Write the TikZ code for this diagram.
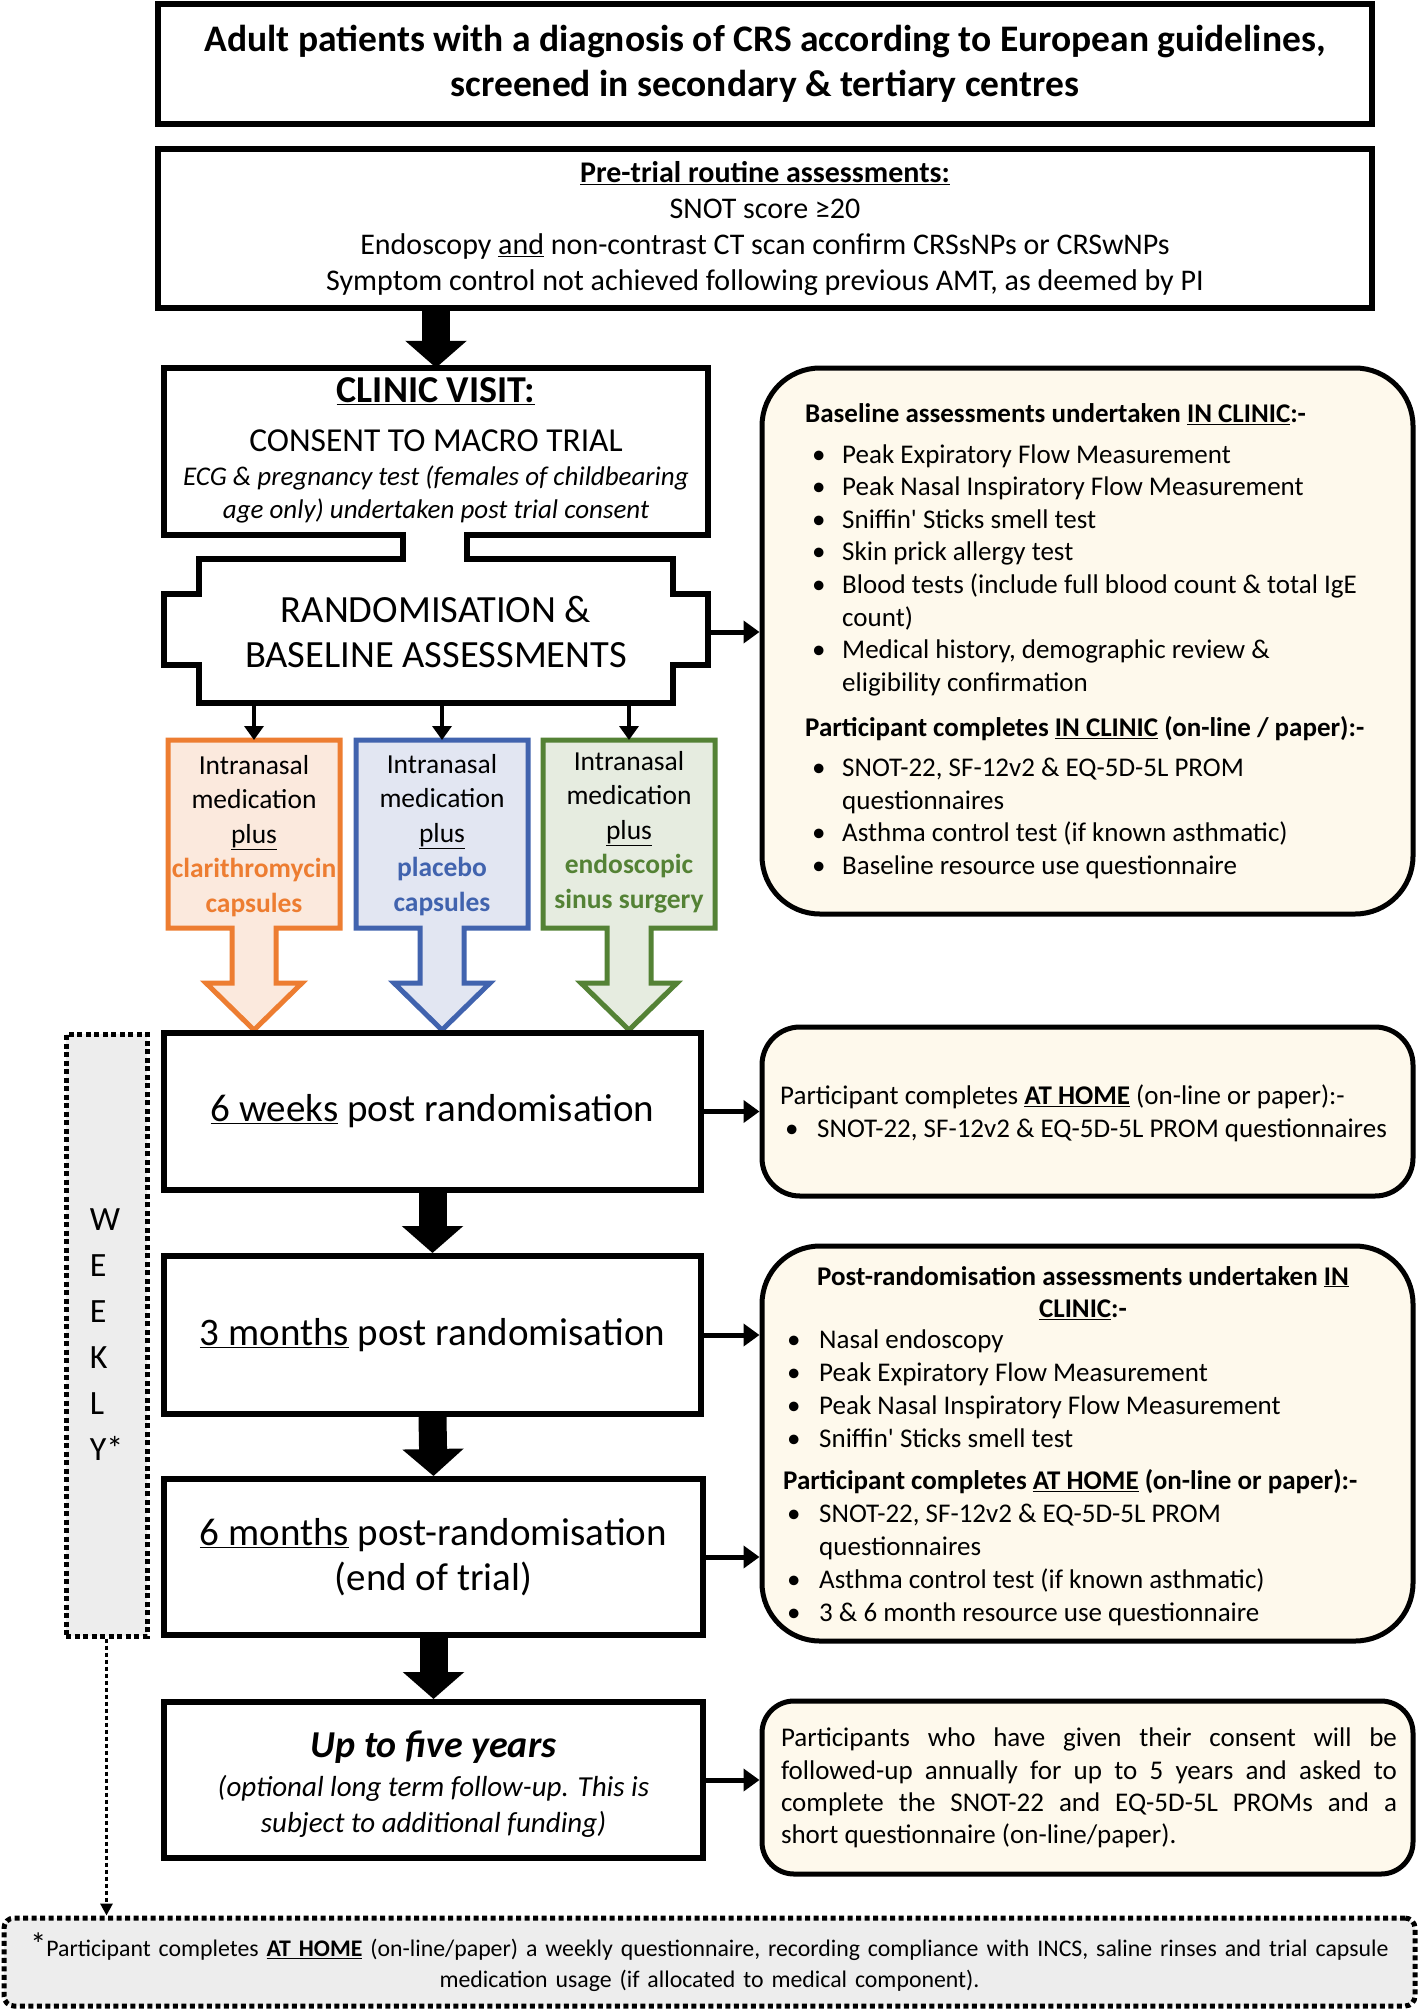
\documentclass[tikz,border=0pt]{standalone}
\usepackage{fontspec}
\setmainfont{Carlito}
\usetikzlibrary{arrows.meta}
\definecolor{cream}{HTML}{FEF9EC}
\definecolor{greybg}{HTML}{EDEDED}
\definecolor{orgline}{HTML}{ED7D31}
\definecolor{orgfill}{HTML}{FBE9DD}
\definecolor{bluline}{HTML}{4163AE}
\definecolor{blufill}{HTML}{E2E6F2}
\definecolor{grnline}{HTML}{548235}
\definecolor{grnfill}{HTML}{E6ECE0}
\newcommand\bul[2]{\hspace*{#1}\makebox[#2][l]{\textbullet}}
\newcommand\armshape[3]{%
  \draw[line width=5pt, draw=#2, fill=#3, line join=miter]
   (#1-86,740) -- (#1+86,740) -- (#1+86,928) -- (#1+22,928) -- (#1+22,983)
   -- (#1+48,983) -- (#1,1030) -- (#1-48,983) -- (#1-22,983) -- (#1-22,928)
   -- (#1-86,928) -- cycle;}
\begin{document}
\begin{tikzpicture}[x=1pt,y=-1pt,
  sqbox/.style={draw=black, line width=6pt, fill=white, inner sep=0pt, align=center},
  rbox/.style={draw=black, line width=5pt, fill=cream, inner sep=0pt},
  txt/.style={inner sep=0pt, align=left},
  dotbox/.style={draw=black, line width=5pt, dash pattern=on 5pt off 3.5pt, fill=greybg, inner sep=0pt},
  bigarr/.style={line width=28pt, -{Triangle[length=27pt,width=60pt]}},
  medarr/.style={line width=5pt, -{Triangle[length=16pt,width=22pt]}},
  smallarr/.style={line width=3.5pt, -{Triangle[length=14pt,width=19pt]}},
  armtxt/.style={inner sep=0pt, align=center, minimum width=172pt, minimum height=188pt, font=\fontsize{27.5}{34.5}\selectfont},
]
\fill[white] (0,0) rectangle (1418,2010);
\useasboundingbox (0,0) rectangle (1418,2010);

% top boxes
\node[sqbox, minimum width=1214pt, minimum height=120pt, font=\fontsize{37.5}{45}\selectfont\bfseries] (screen) at (765,64)
 {Adult patients with a diagnosis of CRS according to European guidelines,\\ screened in secondary \& tertiary centres};
\node[sqbox, minimum width=1214pt, minimum height=159pt, font=\fontsize{30}{36}\selectfont] (pretrial) at (765,228.5)
 {\textbf{\underline{Pre-trial routine assessments:}}\\ SNOT score ≥20\\ Endoscopy \underline{and} non-contrast CT scan confirm CRSsNPs or CRSwNPs\\ Symptom control not achieved following previous AMT, as deemed by PI};

% clinic + randomisation outline
\draw[line width=6pt, line join=miter, fill=white]
 (164,368) -- (708,368) -- (708,535) -- (467,535) -- (467,559) -- (673,559) -- (673,594)
 -- (708,594) -- (708,665) -- (673,665) -- (673,703) -- (199,703) -- (199,665) -- (164,665)
 -- (164,594) -- (199,594) -- (199,559) -- (403,559) -- (403,535) -- (164,535) -- cycle;
\node[inner sep=0pt, minimum width=544pt, minimum height=167pt] (clinic) at (436,451.5) {};
\node[txt, font=\fontsize{38}{40}\selectfont\bfseries] (clinicA) at (436,391) {\underline{CLINIC VISIT:}};
\node[txt, font=\fontsize{33.5}{36}\selectfont] (clinicB) at (436,441) {CONSENT TO MACRO TRIAL};
\node[txt, align=center, font=\fontsize{27}{33}\selectfont\itshape] (clinicC) at (436,494)
 {ECG \& pregnancy test (females of childbearing\\ age only) undertaken post trial consent};
\node[inner sep=0pt, minimum width=544pt, minimum height=144pt, align=center, font=\fontsize{38.5}{45}\selectfont] (random) at (436,632)
 {RANDOMISATION \&\\ BASELINE ASSESSMENTS};
\draw[bigarr] (clinic.north |- pretrial.south) -- (clinic.north);

% arms
\armshape{254}{orgline}{orgfill}
\armshape{442}{bluline}{blufill}
\armshape{629}{grnline}{grnfill}
\node[armtxt] (arm1) at (254,836) {Intranasal\\ medication\\ \underline{plus}\\ \textcolor{orgline}{\textbf{clarithromycin}}\\ \textcolor{orgline}{\textbf{capsules}}};
\node[armtxt] (arm2) at (442,835) {Intranasal\\ medication\\ \underline{plus}\\ \textcolor{bluline}{\textbf{placebo}}\\ \textcolor{bluline}{\textbf{capsules}}};
\node[armtxt] (arm3) at (629,832) {Intranasal\\ medication\\ \underline{plus}\\ \textcolor{grnline}{\textbf{endoscopic}}\\ \textcolor{grnline}{\textbf{sinus surgery}}};
\coordinate (arm1top) at (254,740);
\coordinate (arm2top) at (442,740);
\coordinate (arm3top) at (629,740);
\draw[smallarr] (random.south -| arm1top) -- (arm1top);
\draw[smallarr] (random.south -| arm2top) -- (arm2top);
\draw[smallarr] (random.south -| arm3top) -- (arm3top);

% baseline box
\node[rbox, rounded corners=58pt, minimum width=651pt, minimum height=546pt] (base) at (1087.5,641) {};
\node[txt, anchor=west, font=\fontsize{27}{32.6}\selectfont] (baseT) at (805,641)
 {\textbf{Baseline assessments undertaken \underline{IN CLINIC}:-}\\[8pt]
  \bul{7pt}{30pt}Peak Expiratory Flow Measurement\\
  \bul{7pt}{30pt}Peak Nasal Inspiratory Flow Measurement\\
  \bul{7pt}{30pt}Sniffin\textquotesingle\ Sticks smell test\\
  \bul{7pt}{30pt}Skin prick allergy test\\
  \bul{7pt}{30pt}Blood tests (include full blood count \& total IgE\\
  \hspace*{37pt}count)\\
  \bul{7pt}{30pt}Medical history, demographic review \&\\
  \hspace*{37pt}eligibility confirmation\\[13pt]
  \textbf{Participant completes \underline{IN CLINIC} (on-line / paper):-}\\[7pt]
  \bul{7pt}{30pt}SNOT-22, SF-12v2 \& EQ-5D-5L PROM\\
  \hspace*{37pt}questionnaires\\
  \bul{7pt}{30pt}Asthma control test (if known asthmatic)\\
  \bul{7pt}{30pt}Baseline resource use questionnaire};
\draw[medarr] (random.east) -- (random.east -| base.west);

% timeline
\node[sqbox, minimum width=537pt, minimum height=157pt, font=\fontsize{39}{45}\selectfont] (w6) at (432.5,1111.5) {\underline{6 weeks} post randomisation};
\node[sqbox, minimum width=537pt, minimum height=158pt, font=\fontsize{39}{45}\selectfont] (m3) at (432.5,1335) {\underline{3 months} post randomisation};
\node[sqbox, minimum width=539pt, minimum height=156pt, font=\fontsize{39}{45}\selectfont] (m6) at (433.5,1557) {\underline{6 months} post-randomisation\\ (end of trial)};
\node[sqbox, minimum width=539pt, minimum height=156pt] (y5) at (433.5,1780) {};
\node[inner sep=0pt, align=center, font=\fontsize{29}{36}\selectfont\itshape] (y5t) at (433.5,1784)
 {{\fontsize{38}{40}\selectfont\bfseries Up to five years}\\[3pt]
  (optional long term follow-up. This is\\ subject to additional funding)};
\draw[bigarr] (w6.south) -- (m3.north);
\draw[bigarr] (m3.south) -- (m6.north);
\draw[bigarr] (m6.south) -- (y5.north);

% right boxes
\node[rbox, rounded corners=38pt, minimum width=651pt, minimum height=169pt] (sixr) at (1087.5,1111.5) {};
\node[txt, anchor=west, font=\fontsize{27}{32.6}\selectfont] (sixrT) at (780,1113)
 {Participant completes \textbf{\underline{AT HOME}} (on-line or paper):-\\
  \bul{5pt}{32pt}SNOT-22, SF-12v2 \& EQ-5D-5L PROM questionnaires};
\node[rbox, rounded corners=58pt, minimum width=651pt, minimum height=395pt] (post) at (1087.5,1443.5) {};
\node[txt, align=center, font=\fontsize{27}{32.6}\selectfont\bfseries] (postH) at (1083,1293)
 {Post-randomisation assessments undertaken \underline{IN}\\ \underline{CLINIC}:-};
\node[txt, anchor=west, font=\fontsize{27}{33}\selectfont] (postT) at (783,1478)
 {\bul{4pt}{32pt}Nasal endoscopy\\
  \bul{4pt}{32pt}Peak Expiratory Flow Measurement\\
  \bul{4pt}{32pt}Peak Nasal Inspiratory Flow Measurement\\
  \bul{4pt}{32pt}Sniffin\textquotesingle\ Sticks smell test\\[9pt]
  \textbf{Participant completes \underline{AT HOME} (on-line or paper):-}\\
  \bul{4pt}{32pt}SNOT-22, SF-12v2 \& EQ-5D-5L PROM\\
  \hspace*{36pt}questionnaires\\
  \bul{4pt}{32pt}Asthma control test (if known asthmatic)\\
  \bul{4pt}{32pt}3 \& 6 month resource use questionnaire};
\node[rbox, rounded corners=32pt, minimum width=651pt, minimum height=173pt] (fivr) at (1087.5,1787.5) {};
\node[inner sep=0pt, text width=616pt, align=justify, font=\fontsize{27}{32.3}\selectfont] (fivrT) at (1089,1788)
 {Participants who have given their consent will be\linebreak followed-up annually for up to 5 years and asked to\linebreak complete the SNOT-22 and EQ-5D-5L PROMs and a\linebreak short questionnaire (on-line/paper).};
\draw[medarr] (w6.east) -- (w6.east -| sixr.west);
\draw[medarr] (m3.east) -- (m3.east -| post.west);
\draw[medarr] (m6.east) -- (m6.east -| post.west);
\draw[medarr] (y5.east) -- (y5.east -| fivr.west);

% weekly and footer
\node[dotbox, minimum width=81pt, minimum height=602pt, align=left, font=\fontsize{34}{46}\selectfont] (weekly) at (106.5,1335)
 {W\\ E\\ E\\ K\\ L\\ Y*};
\node[dotbox, rounded corners=10pt, minimum width=1411pt, minimum height=88pt, text width=1400pt, align=center, font=\fontsize{23.8}{31}\selectfont] (footer) at (709.5,1962)
 {\raisebox{1pt}{\fontsize{32}{32}\selectfont *}Participant completes \textbf{\underline{AT HOME}} (on-line/paper) a weekly questionnaire, recording compliance with INCS, saline rinses and trial capsule\\ medication usage (if allocated to medical component).};
\draw[line width=3pt, dash pattern=on 4pt off 3pt, -{Triangle[length=12pt,width=12pt]}] (weekly.south) -- (weekly.south |- footer.north);
\end{tikzpicture}
\end{document}
